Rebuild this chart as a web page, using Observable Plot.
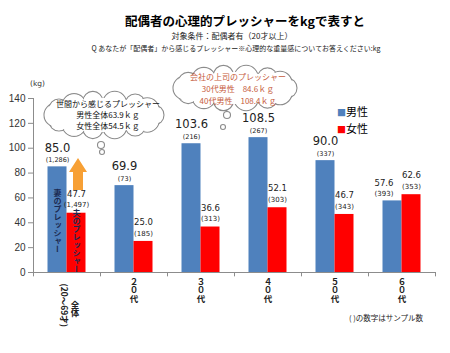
<!DOCTYPE html>
<html><head><meta charset="utf-8">
<script src="https://cdn.jsdelivr.net/npm/d3@7"></script>
<script src="https://cdn.jsdelivr.net/npm/@observablehq/plot@0.6"></script>
<style>
body{margin:0;background:#fff;font-family:"Noto Sans CJK JP",sans-serif;color:#000}
#wrap{position:relative;width:450px;height:353px;overflow:hidden}
#head{position:relative;height:58px}
.t{position:absolute;white-space:nowrap;transform:translate(-50%,-50%);line-height:1}
.l{position:absolute;white-space:nowrap;transform:translateY(-50%);line-height:1}
#chart{position:absolute;left:0;top:58px}
</style></head><body><div id="wrap">
<div id="head"></div>
<div id="chart"></div>
</div>
<script>
// ---- data ----
const categories = ["全体","２０代","３０代","４０代","５０代","６０代"];
const series = ["男性","女性"];
const maleValues = [85.0, 69.9, 103.6, 108.5, 90.0, 57.6];
const femaleValues = [47.7, 25.0, 36.6, 52.1, 46.7, 62.6];
const maleSamples = ["(1,286)","(73)","(216)","(267)","(337)","(393)"];
const femaleSamples = ["(1,497)","(185)","(313)","(303)","(343)","(353)"];
const yTicks = [0, 20, 40, 60, 80, 100, 120, 140];
const ageRange = "(20～69才)";
const titleText = "配偶者の心理的プレッシャーをkgで表すと";
const subtitleText = "対象条件：配偶者有（20才以上）";
const questionText = "Q あなたが「配偶者」から感じるプレッシャー※心理的な重量感についてお答えください:kg";
const cloud1Lines = ["世間から感じるプレッシャー","男性全体63.9ｋｇ","女性全体54.5ｋｇ"];
const cloud2Lines = ["会社の上司のプレッシャー","30代男性　84.6ｋｇ","40代男性　108.4ｋｇ"];
const wifeText = "妻のプレッシャー";
const husbandText = "夫のプレッシャー";
const footnote = "( )の数字はサンプル数";
const colors = ["#4F81BD", "#FF0000"];

const rows = categories.flatMap((c, i) => [
  {cat: c, sex: series[0], value: maleValues[i], n: maleSamples[i]},
  {cat: c, sex: series[1], value: femaleValues[i], n: femaleSamples[i]}
]);
const male = rows.filter(d => d.sex === series[0]);
const female = rows.filter(d => d.sex === series[1]);
const maleBig = male.slice(0, 5);
const maleSmall = male.slice(5);

// ---- header ----
const head = document.getElementById("head");
function addText(parent, cls, txt, x, y, style) {
  const d = document.createElement("div");
  d.className = cls; d.textContent = txt;
  d.style.left = x + "px"; d.style.top = y + "px";
  Object.assign(d.style, style || {});
  parent.appendChild(d);
  return d;
}
addText(head, "t", titleText, 245, 21, {fontSize: "12.5px", fontWeight: "bold"});
addText(head, "t", subtitleText, 232, 36, {fontSize: "8px", color: "#222"});
addText(head, "t", questionText, 236, 48, {fontSize: "7px", color: "#222"});

const wrap = document.getElementById("wrap");
addText(wrap, "l", "(kg)", 30, 84, {fontSize: "7.5px", fontFamily: "DejaVu Sans", color: "#333"});
const lg1 = addText(wrap, "l", "", 337, 111, {fontSize: "11px"});
lg1.innerHTML = `<span style="color:${colors[0]};font-size:9px">■</span>${series[0]}`;
const lg2 = addText(wrap, "l", "", 337, 128, {fontSize: "11px"});
lg2.innerHTML = `<span style="color:${colors[1]};font-size:9px">■</span>${series[1]}`;
addText(wrap, "l", footnote, 349, 318, {fontSize: "7.5px", color: "#222"});

// ---- chart ----
const BW = 67;
const plot = Plot.plot({
  width: 450,
  height: 295,
  marginTop: 40,
  marginBottom: 81,
  marginLeft: 33,
  marginRight: 15,
  style: {fontFamily: "Noto Sans CJK JP", fontSize: "10px", background: "transparent", overflow: "visible"},
  x: {domain: categories, padding: 0, axis: null},
  y: {domain: [0, 140]},
  color: {domain: series, range: colors},
  marks: [
    Plot.axisY({ticks: yTicks, tickSize: 5, tickPadding: 3, label: null, stroke: "#8c8c8c", fill: "#333", fontFamily: "Liberation Sans", fontSize: 10}),
    Plot.barY(male, {x: "cat", y: "value", fill: "sex", insetLeft: 14.5, insetRight: 33.5}),
    Plot.barY(female, {x: "cat", y: "value", fill: "sex", insetLeft: 33.5, insetRight: 14.5}),
    Plot.ruleY([0], {stroke: "#8c8c8c"}),
    Plot.ruleX(categories.slice(0, 1), {x: d => d, dx: -BW / 2, y1: 0, y2: 140, stroke: "#8c8c8c"}),
    Plot.ruleX(categories, {x: d => d, dx: -BW / 2, y1: 0, y2: -3.5, stroke: "#8c8c8c"}),
    Plot.ruleX(categories.slice(-1), {x: d => d, dx: BW / 2, y1: 0, y2: -3.5, stroke: "#8c8c8c"}),
    // value labels
    Plot.text(maleBig, {x: "cat", y: "value", text: d => d.value.toFixed(1), dx: -9.5, dy: -19, fontSize: 11.5, fontFamily: "DejaVu Sans", fill: "#222"}),
    Plot.text(maleBig, {x: "cat", y: "value", text: "n", dx: -9.5, dy: -7, fontSize: 6.5, fontFamily: "DejaVu Sans", fill: "#222"}),
    Plot.text(maleSmall, {x: "cat", y: "value", text: d => d.value.toFixed(1), dx: -18, dy: -18, fontSize: 8.5, fontFamily: "DejaVu Sans", fill: "#222"}),
    Plot.text(maleSmall, {x: "cat", y: "value", text: "n", dx: -18, dy: -7, fontSize: 7, fontFamily: "DejaVu Sans", fill: "#222"}),
    Plot.text(female, {x: "cat", y: "value", text: d => d.value.toFixed(1), dx: 9.5, dy: -19, fontSize: 8.5, fontFamily: "DejaVu Sans", fill: "#222"}),
    Plot.text(female, {x: "cat", y: "value", text: "n", dx: 9.5, dy: -8, fontSize: 7, fontFamily: "DejaVu Sans", fill: "#222"}),
    // category labels (turned vertical below)
    Plot.text(categories.slice(1), {x: d => d, frameAnchor: "bottom", dy: 5, textAnchor: "start", fontSize: 8.5, fontWeight: "bold", fill: "#222"}),
    Plot.text(categories.slice(0, 1), {x: d => d, frameAnchor: "bottom", dx: 8, dy: 28, textAnchor: "start", fontSize: 8.5, fontWeight: "bold", fill: "#222"}),
    Plot.text([ageRange], {x: () => categories[0], frameAnchor: "bottom", dx: -6.5, dy: 11, textAnchor: "start", fontSize: 8.5, fontWeight: "bold", fill: "#222"}),
    // in-bar texts
    Plot.text([wifeText], {x: () => categories[0], frameAnchor: "bottom", dx: -9.5, dy: -84, textAnchor: "start", fontSize: 8, fontWeight: "bold", fill: "#1c2a52"}),
    Plot.text([husbandText], {x: () => categories[0], frameAnchor: "bottom", dx: 9.5, dy: -64, textAnchor: "start", fontSize: 8, fontWeight: "bold", fill: "#1c2a52"})
  ]
});
document.getElementById("chart").appendChild(plot);
const vset = new Set([...categories, wifeText, husbandText, ageRange]);
plot.querySelectorAll("text").forEach(t => {
  if (vset.has(t.textContent)) {
    t.setAttribute("writing-mode", "vertical-rl");
    t.style.writingMode = "vertical-rl";
    if (t.textContent === ageRange) t.style.textOrientation = "sideways";
    t.removeAttribute("dy");
  }
});

// ---- annotations (clouds, arrow) ----
const svg = d3.select(plot);
const ann = svg.append("g");
function cloud(cx, cy, hw, hh, trail) {
  const g = ann.append("g");
  const n = 14, circles = [];
  for (let i = 0; i < n; i++) {
    const a = 2 * Math.PI * i / n;
    const r = 10 + (i % 2) * 2;
    circles.push([cx + (hw - r) * Math.cos(a), cy + (hh - r) * Math.sin(a), r]);
  }
  g.selectAll("c1").data(circles).join("circle").attr("cx", d => d[0]).attr("cy", d => d[1]).attr("r", d => d[2])
    .attr("fill", "#fff").attr("stroke", "#8c8c8c").attr("stroke-width", 1.1);
  g.selectAll("c2").data(circles).join("circle").attr("cx", d => d[0]).attr("cy", d => d[1]).attr("r", d => d[2] - 0.9)
    .attr("fill", "#fff");
  g.append("ellipse").attr("cx", cx).attr("cy", cy).attr("rx", hw - 10).attr("ry", hh - 7).attr("fill", "#fff");
  g.selectAll("c3").data(trail).join("circle").attr("cx", d => d[0]).attr("cy", d => d[1]).attr("r", d => d[2])
    .attr("fill", "#fff").attr("stroke", "#8c8c8c").attr("stroke-width", 1.1);
  return g;
}
const c1 = cloud(104, 57, 60, 24, [[101, 87, 3.5], [102, 94, 2.5]]);
c1.selectAll("text").data(cloud1Lines).join("text")
  .attr("x", 108).attr("y", (d, i) => 46 + i * 11).attr("dy", "0.35em").attr("text-anchor", "middle")
  .attr("font-size", 8).attr("font-family", "Noto Sans CJK JP").attr("fill", "#111").text(d => d);
const c2 = cloud(235, 30, 62, 23, [[227, 57, 3.5], [223, 69, 2.5]]);
c2.selectAll("text").data(cloud2Lines).join("text")
  .attr("x", 238).attr("y", (d, i) => 19 + i * 12).attr("dy", "0.35em").attr("text-anchor", "middle")
  .attr("font-size", 8).attr("font-family", "Noto Sans CJK JP").attr("fill", "#c65b3c").text(d => d);

const ax = 78;
ann.append("path")
  .attr("d", `M${ax},100 L${ax + 9},114 L${ax + 5},114 L${ax + 5},132 L${ax - 5},132 L${ax - 5},114 L${ax - 9},114 Z`)
  .attr("fill", "#F7A035");
</script></body></html>
